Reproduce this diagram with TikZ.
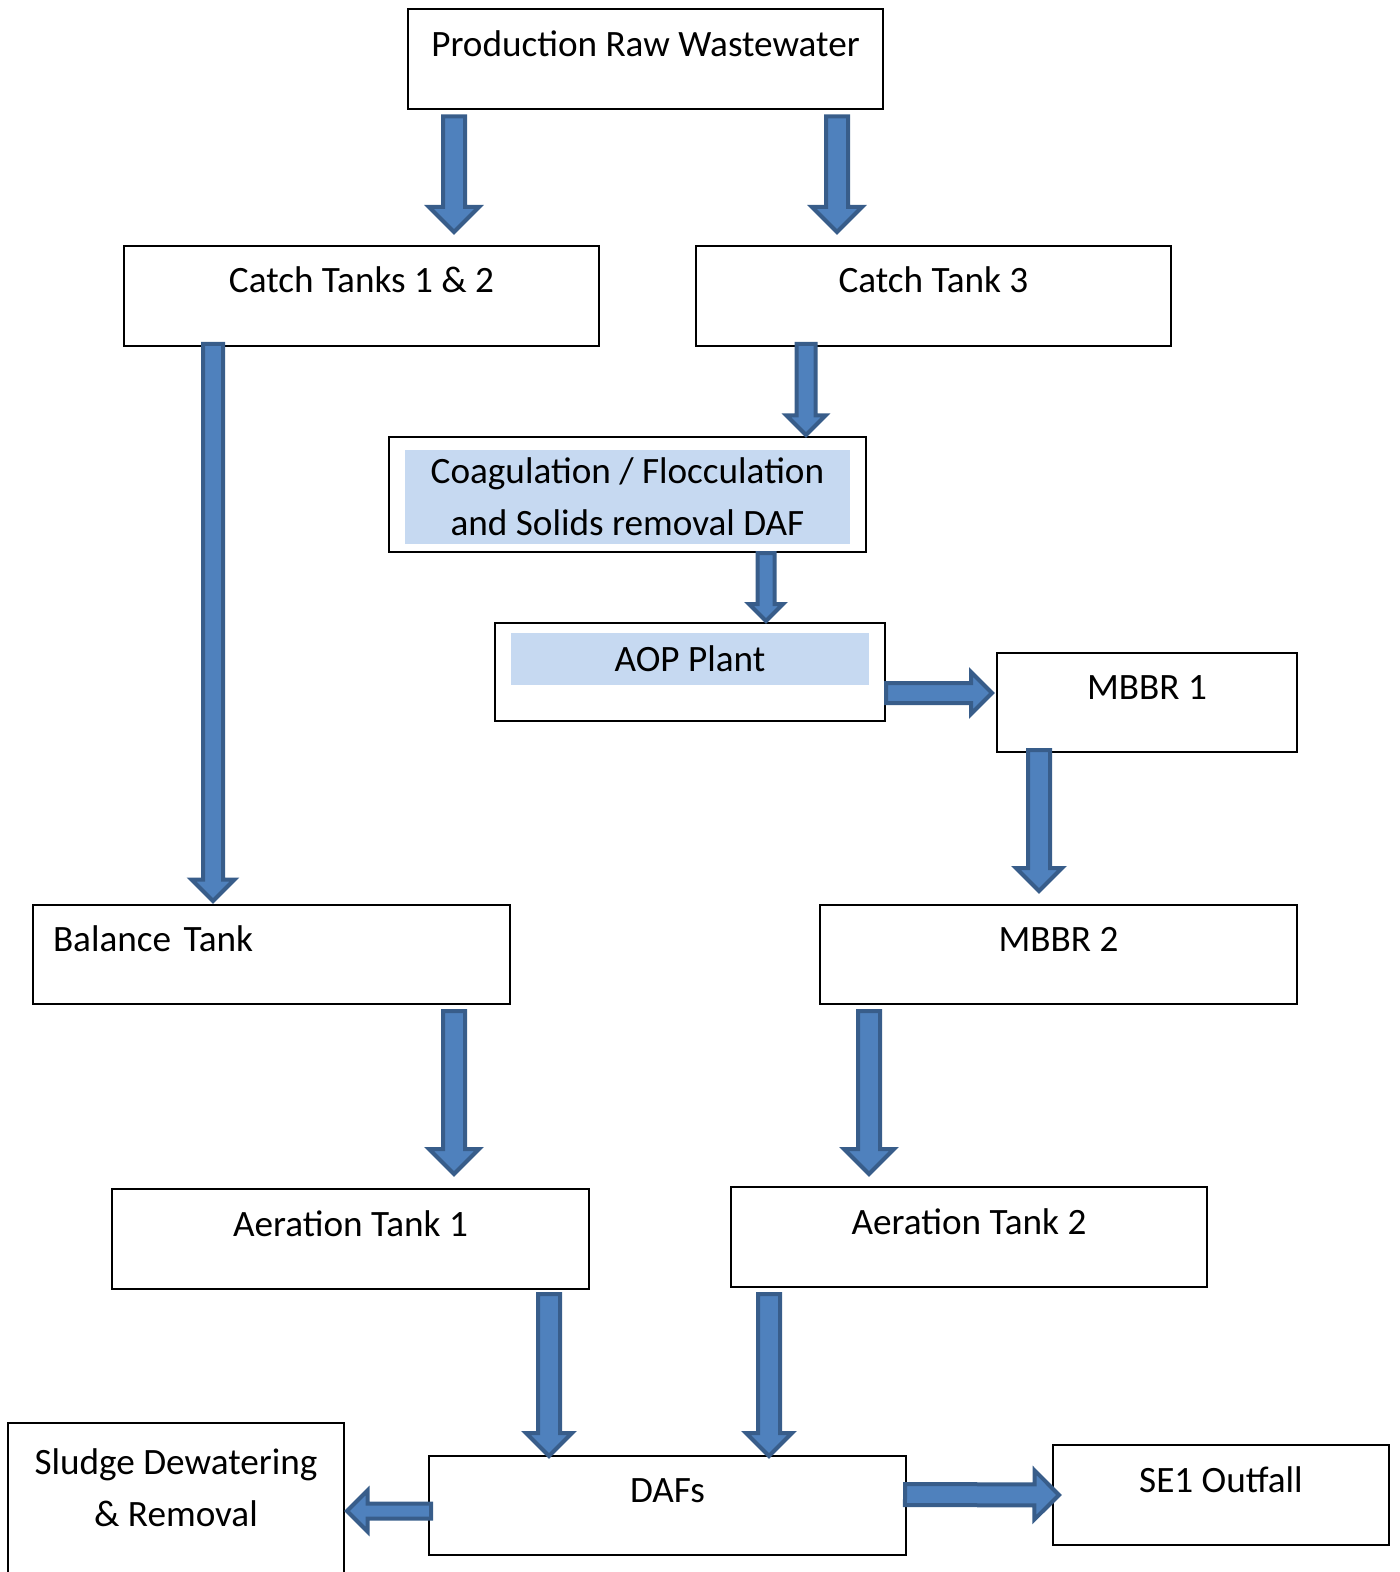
\documentclass[tikz,border=0pt]{standalone}
\usepackage{fontspec}
\setmainfont{Carlito}
\usetikzlibrary{positioning, shapes.arrows, calc}

\definecolor{arrowfill}{HTML}{4F81BD}
\definecolor{arrowline}{HTML}{385D8A}
\definecolor{shadeblue}{HTML}{C6D9F1}

% block arrow between two points: half shaft, head extend, from, to
\newcommand{\flowarr}[4]{%
  \path let \p1=(#3), \p2=(#4),
    \n1={veclen(\x2-\x1,\y2-\y1)}, \n2={atan2(\y2-\y1,\x2-\x1)} in
    node[flowarrow, minimum height=\n1, inner ysep=#1,
      single arrow head extend=#2, rotate=\n2, anchor=tail] at (\p1) {};}

\begin{document}
\begin{tikzpicture}[x=0.5pt, y=-0.5pt,
  every node/.style={font=\fontsize{18.6pt}{26pt}\selectfont},
  box/.style={draw, line width=1pt, minimum width=238.5pt, minimum height=50pt,
    text height=13pt, text depth=16pt},
  shadebox/.style={fill=shadeblue, inner sep=0pt},
  flowarrow/.style={single arrow, draw=arrowline, fill=arrowfill, line width=2pt,
    inner xsep=0pt, outer sep=0pt, single arrow tip angle=90}]
\useasboundingbox (0,0) rectangle (1400,1572);

\node (prod) [box, minimum width=237.5pt] at (645.5,59.5) {Production Raw Wastewater};
\node (catchA) [box, minimum width=237.5pt] at (361.5,296) {Catch Tanks 1 \& 2};
\node (catchB) [box, minimum width=237.5pt] at (933.5,296) {Catch Tank 3};

\node (coag) [box, minimum height=57.5pt] at (627.5,494.5) {};
\node (coagtext) [shadebox, minimum width=222.5pt, minimum height=46.5pt, align=center]
  at (627.5,497) {Coagulation / Flocculation\\and Solids removal DAF};

\node (aop) [box, minimum width=195pt, minimum height=49pt] at (690,672) {};
\node (aoptext) [shadebox, minimum width=179pt, minimum height=26pt] at (690,659) {AOP Plant};

\node (mbbrA) [box, minimum width=150pt, minimum height=49.5pt] at (1147,702.5) {MBBR 1};
\node (balance) [box, text width=218.5pt, inner xsep=10pt, align=left, minimum height=49.5pt]
  at (271.5,954.5) {Balance Tank};
\node (mbbrB) [box, minimum height=49.5pt] at (1058.5,954.5) {MBBR 2};
\node (aerA) [box] at (350.5,1239) {Aeration Tank 1};
\node (aerB) [box, minimum width=238pt] at (969,1237) {Aeration Tank 2};

\node (sludge) [box, minimum width=168pt, minimum height=83.5pt,
  label={[anchor=north, align=center, yshift=-10pt]north:{Sludge Dewatering\\\& Removal}}]
  at (176,1506.5) {};
\node (dafs) [box, minimum height=49.5pt] at (667.5,1505.5) {DAFs};
\node (outfall) [box, minimum width=168pt] at (1221,1495) {SE1 Outfall};

% flow arrows
\flowarr{4.5pt}{7pt}{[shift={(-191.5,6)}]prod.south}{[shift={(92.5,-13)}]catchA.north}
\flowarr{4.5pt}{7pt}{[shift={(191.5,6)}]prod.south}{[shift={(-96.5,-13)}]catchB.north}
\flowarr{4pt}{5.75pt}{[shift={(-148.5,-3)}]catchA.south}{[shift={(-58.5,-3)}]balance.north}
\flowarr{3.75pt}{5pt}{[shift={(-127.5,-3)}]catchB.south}{[shift={(178.5,-1)}]coag.north}
\flowarr{3.25pt}{4.25pt}{[shift={(138.5,0)}]coag.south}{[shift={(76,-1)}]aop.north}
\flowarr{4pt}{5.5pt}{[shift={(0,21)}]aop.east}{[shift={(-4,-9.5)}]mbbrA.west}
\flowarr{4.5pt}{6pt}{[shift={(-108,-3)}]mbbrA.south}{[shift={(-19.5,-13)}]mbbrB.north}
\flowarr{4.5pt}{7pt}{[shift={(182.5,6)}]balance.south}{[shift={(103.5,-14)}]aerA.north}
\flowarr{4.5pt}{7pt}{[shift={(-189.5,6)}]mbbrB.south}{[shift={(-100,-12)}]aerB.north}
\flowarr{4.5pt}{6pt}{[shift={(198.5,4)}]aerA.south}{[shift={(-118.5,1)}]dafs.north}
\flowarr{4.5pt}{6pt}{[shift={(-200,6)}]aerB.south}{[shift={(101.5,1)}]dafs.north}
\flowarr{2.75pt}{6.5pt}{[shift={(3,5.5)}]dafs.west}{[shift={(2,4.5)}]sludge.east}
\flowarr{4.25pt}{7pt}{[shift={(-2,-11)}]dafs.east}{[shift={(7,0)}]outfall.west}
\end{tikzpicture}
\end{document}
